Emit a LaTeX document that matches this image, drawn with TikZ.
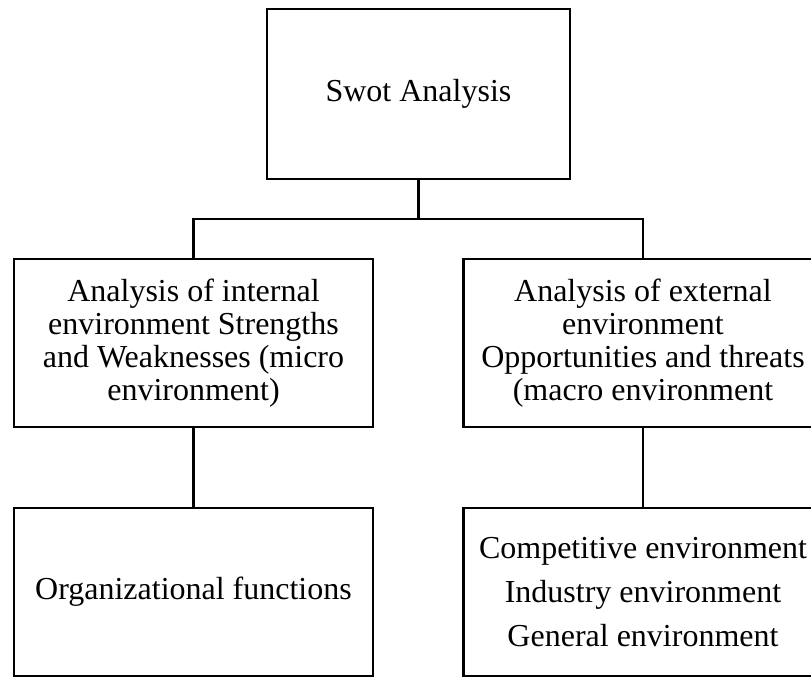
\documentclass[tikz,border=0pt]{standalone}
\usepackage{fontspec}
\setmainfont{Liberation Serif}
\begin{document}
\begin{tikzpicture}[x=0.5pt,y=-0.5pt,
  box/.style={draw=black,line width=1.1pt,inner sep=0pt,align=center,
    font=\fontsize{16}{16.5}\selectfont},
  link/.style={draw=black,line width=1.1pt}]
\useasboundingbox[fill=white] (0,0) rectangle (811,677);
\node[box,minimum width=151.5pt,minimum height=85pt] (top) at (418.5,94) {Swot Analysis};
\node[box,minimum width=179.5pt,minimum height=84pt] (int) at (193.5,343)
  {Analysis of internal\\environment Strengths\\and Weaknesses (micro\\environment)};
\node[box,minimum width=179.5pt,minimum height=84pt] (ext) at (643,343)
  {Analysis of external\\environment\\Opportunities and threats\\(macro environment};
\node[box,minimum width=179.5pt,minimum height=84pt] (org) at (193.5,592)
  {Organizational functions};
\node[box,minimum width=179.5pt,minimum height=84pt,
  font=\fontsize{16}{22}\selectfont] (env) at (643,592)
  {Competitive environment\\Industry environment\\General environment};
\coordinate (bus) at (418.5,219);
\draw[link] (top.south) -- (bus);
\draw[link] (int.north) |- (bus) -| (ext.north);
\draw[link] (int.south) -- (org.north);
\draw[link] (ext.south) -- (env.north);
\end{tikzpicture}
\end{document}
